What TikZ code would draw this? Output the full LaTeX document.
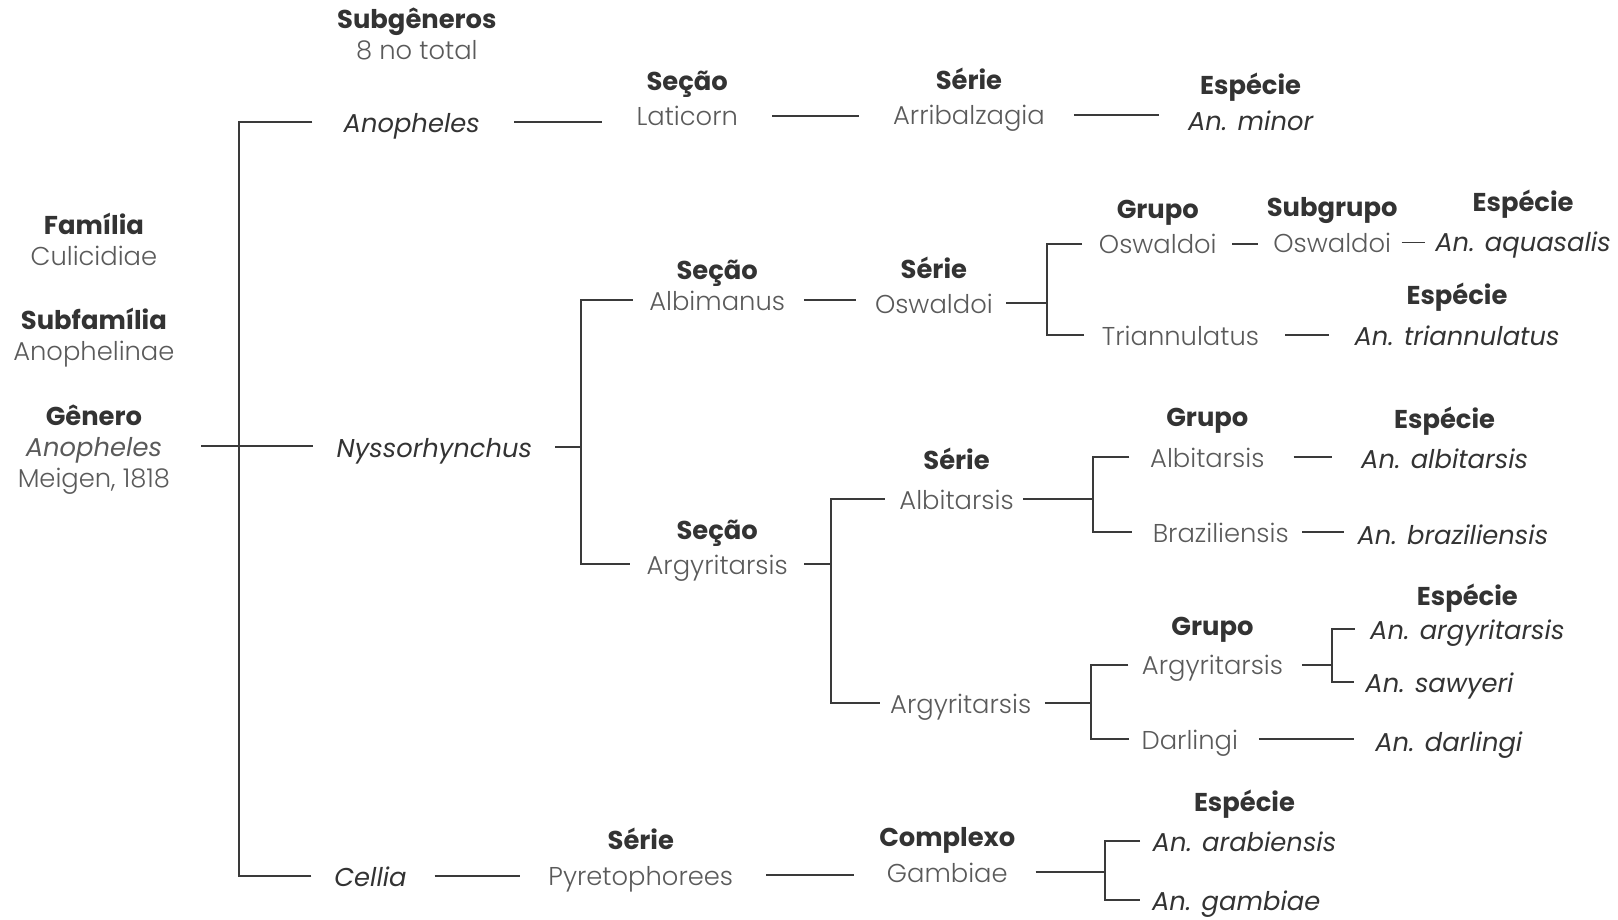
\documentclass[tikz,border=0pt]{standalone}
\usepackage{fontspec}
\setmainfont{Poppins}
\IfFontExistsTF{Poppins Light}{\newfontfamily\lightfont{Poppins Light}}{\newcommand\lightfont{\normalfont}}
\definecolor{txtdark}{HTML}{333333}
\definecolor{txtgray}{HTML}{5A5A5A}
\definecolor{linegray}{HTML}{3A3A3A}
\tikzset{
  lbl/.style={inner sep=0pt, text height=20pt, text depth=0pt, font=\fontsize{25}{29}\selectfont},
  head/.style={lbl, text=txtdark, font=\fontsize{25}{29}\selectfont\bfseries},
  taxon/.style={lbl, text=txtgray, font=\fontsize{25}{29}\selectfont\lightfont},
  spec/.style={lbl, text=txtdark, font=\fontsize{25}{29}\selectfont\itshape},
  link/.style={draw=linegray, line width=1.9pt, shorten <=#1, shorten >=#1},
  link/.default=16pt,
  tick/.style={draw=linegray, line width=1.9pt, shorten <=#1},
  tick/.default=14pt,
}
\begin{document}
\begin{tikzpicture}[x=1pt,y=-1pt]
\useasboundingbox (0,0) rectangle (1568,891);

\node[head] (fam) at (91,217) {Família};
\node[taxon] (culi) at (91,247) {Culicidiae};
\node[head] (subf) at (91,309) {Subfamília};
\node[taxon] (anoph) at (91,339) {Anophelinae};
\node[head] (gen) at (91,402) {Gênero};
\node[spec,text=txtgray] (genA) at (91,432) {Anopheles};
\node[taxon] (meig) at (91,462) {Meigen, 1818};

\node[head] (subg) at (404,18) {Subgêneros};
\node[taxon] (tot) at (404,48) {8 no total};
\node[spec] (anoS) at (399,118) {Anopheles};
\node[spec] (nyss) at (421,433) {Nyssorhynchus};
\node[spec] (cell) at (359,849) {Cellia};
\coordinate (root) at (232,438);

\node[head] (secA) at (666,78) {Seção};
\node[taxon] (latic) at (666,112) {Laticorn};
\node[head] (serA) at (939,77) {Série};
\node[taxon] (arrib) at (939,111) {Arribalzagia};
\node[head] (espA) at (1212,82) {Espécie};
\node[spec] (minor) at (1212,116) {An. minor};

\node[head] (secB) at (695,261) {Seção};
\node[taxon] (albim) at (695,291) {Albimanus};
\node[head] (serB) at (905,260) {Série};
\node[taxon] (oswS) at (905,294) {Oswaldoi};
\node[head] (grpB) at (1122,202) {Grupo};
\node[taxon] (oswG) at (1122,236) {Oswaldoi};
\node[head] (sgrB) at (1291,200) {Subgrupo};
\node[taxon] (oswSub) at (1291,235) {Oswaldoi};
\node[head] (espB) at (1476,195) {Espécie};
\node[spec] (aquas) at (1476,234) {An. aquasalis};
\node[taxon] (trian) at (1144,325) {Triannulatus};
\node[head] (espC) at (1412,285) {Espécie};
\node[spec] (triSp) at (1412,325) {An. triannulatus};
\coordinate (jNys) at (563,435);
\coordinate (jOsw) at (1015,292);

\node[head] (secC) at (695,513) {Seção};
\node[taxon] (argS) at (695,547) {Argyritarsis};
\node[head] (serC) at (927,445) {Série};
\node[taxon] (albS) at (927,484) {Albitarsis};
\node[head] (grpC) at (1170,403) {Grupo};
\node[taxon] (albG) at (1170,443) {Albitarsis};
\node[head] (espD) at (1400,405) {Espécie};
\node[spec] (albSp) at (1400,444) {An. albitarsis};
\node[taxon] (braz) at (1183,516) {Braziliensis};
\node[spec] (brazSp) at (1408,518) {An. braziliensis};
\node[taxon] (argSer) at (931,681) {Argyritarsis};
\node[head] (grpD) at (1175,606) {Grupo};
\node[taxon] (argG) at (1175,644) {Argyritarsis};
\node[head] (espE) at (1422,577) {Espécie};
\node[spec] (argSp) at (1422,610) {An. argyritarsis};
\node[spec] (sawy) at (1395,661) {An. sawyeri};
\node[taxon] (darl) at (1153,716) {Darlingi};
\node[spec] (darlSp) at (1404,718) {An. darlingi};
\coordinate (jArg) at (805,550);
\coordinate (jAlb) at (1059,488);
\coordinate (jArgS) at (1057,681);
\coordinate (jArgG) at (1291,640);

\node[head] (serD) at (621,813) {Série};
\node[taxon] (pyret) at (621,848) {Pyretophorees};
\node[head] (cplx) at (918,810) {Complexo};
\node[taxon] (gamb) at (918,845) {Gambiae};
\node[head] (espF) at (1206,776) {Espécie};
\node[spec] (arab) at (1206,815) {An. arabiensis};
\node[spec] (gambSp) at (1198,872) {An. gambiae};
\coordinate (jGam) at (1071,848);

\draw[tick=30pt] (anoS.west) -| (root);
\draw[tick=22pt] (cell.west) -| (root);
\draw[link, shorten <=38pt, shorten >=23pt] (genA.east) -- (genA.east -| nyss.west);

\draw[link=33pt] (anoS.east) -- (anoS.east -| latic.west);
\draw[link=33pt] (latic.east) -- (latic.east -| arrib.west);
\draw[link=28pt] (arrib.east) -- (arrib.east -| minor.west);

\draw[tick=22pt] (nyss.east) -- (nyss.east -| jNys);
\draw[tick=16pt] (albim.west) -| (jNys);
\draw[tick=16pt] (argS.west) -| (jNys);

\draw[link=18pt] (albim.east) -- (albim.east -| oswS.west);
\draw[tick=13pt] (oswS.east) -- (oswS.east -| jOsw);
\draw[tick=16pt] (oswG.west) -| (jOsw);
\draw[tick=17pt] (trian.west) -| (jOsw);
\draw[link=15pt] (oswG.east) -- (oswG.east -| oswSub.west);
\draw[link=10pt] (oswSub.east) -- (oswSub.east -| aquas.west);
\draw[link=25pt] (trian.east) -- (trian.east -| triSp.west);

\draw[tick=16pt] (argS.east) -- (argS.east -| jArg);
\draw[tick=14pt] (albS.west) -| (jArg);
\draw[tick=10pt] (argSer.west) -| (jArg);

\draw[tick=9pt] (albS.east) -- (albS.east -| jAlb);
\draw[tick=20pt] (albG.west) -| (jAlb);
\draw[tick=20pt] (braz.west) -| (jAlb);
\draw[link=28pt] (albG.east) -- (albG.east -| albSp.west);
\draw[link=13pt] (braz.east) -- (braz.east -| brazSp.west);

\draw[tick=13pt] (argSer.east) -- (argSer.east -| jArgS);
\draw[tick=13pt] (argG.west) -| (jArgS);
\draw[tick=12pt] (darl.west) -| (jArgS);
\draw[tick=18pt] (argG.east) -- (argG.east -| jArgG);
\draw[tick=15pt] (argSp.west) -| (jArgG);
\draw[tick=11pt] (sawy.west) -| (jArgG);
\draw[link=20pt] (darl.east) -- (darl.east -| darlSp.west);

\draw[link=27pt] (cell.east) -- (cell.east -| pyret.west);
\draw[link=32pt] (pyret.east) -- (pyret.east -| gamb.west);
\draw[tick=27pt] (gamb.east) -- (gamb.east -| jGam);
\draw[tick=12pt] (arab.west) -| (jGam);
\draw[tick=12pt] (gambSp.west) -| (jGam);
\end{tikzpicture}
\end{document}
